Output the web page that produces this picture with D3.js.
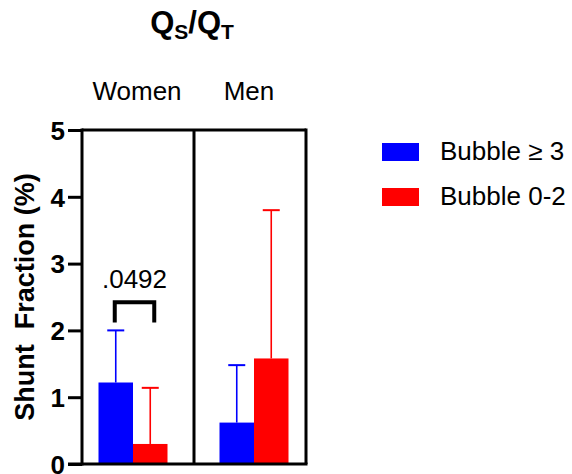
<!DOCTYPE html>
<html>
<head>
<meta charset="utf-8">
<script src="https://cdn.jsdelivr.net/npm/d3@7"></script>
<style>
  html, body { margin: 0; padding: 0; background: #fff; }
  svg { display: block; font-family: "Liberation Sans", Arial, sans-serif; }
</style>
</head>
<body>
<svg id="chart" width="572" height="474"></svg>
<script>
// Shunt fraction (Qs/Qt) by sex and bubble grade: mean with upward SD whisker
const groups = ["Women", "Men"];
const series = ["Bubble ≥ 3", "Bubble 0-2"];
const colors = ["#0000ff", "#ff0000"];
const means = [[1.22, 0.30], [0.62, 1.58]];   // [group][series]
const errTop = [[2.00, 1.14], [1.48, 3.80]];   // mean + SD
const yTicks = [0, 1, 2, 3, 4, 5];
const pLabel = ".0492";
const bracketLevels = [2.12, 2.42];

const svg = d3.select("#chart");

const y = d3.scaleLinear().domain([0, 5]).range([464, 130]);
// panel frame: one band per group
const xPanel = d3.scaleBand().domain(groups).range([82, 306]).paddingInner(0).paddingOuter(0);
// bar-group centres inside each panel
const xGroup = d3.scalePoint().domain(groups).range([133, 254]);
const barW = 34.5;
const xSeries = d3.scaleBand().domain(series).range([-barW, barW]).padding(0);

// bars
groups.forEach((g, gi) => {
  series.forEach((s, si) => {
    const x0 = xGroup(g) + xSeries(s);
    const cx = x0 + xSeries.bandwidth() / 2;
    const capHalf = 8.5;
    // error whisker
    svg.append("line")
      .attr("x1", cx).attr("x2", cx)
      .attr("y1", y(means[gi][si])).attr("y2", y(errTop[gi][si]))
      .attr("stroke", colors[si]).attr("stroke-width", 1.6);
    svg.append("line")
      .attr("x1", cx - capHalf).attr("x2", cx + capHalf)
      .attr("y1", y(errTop[gi][si])).attr("y2", y(errTop[gi][si]))
      .attr("stroke", colors[si]).attr("stroke-width", 2);
    svg.append("rect")
      .attr("x", x0).attr("width", xSeries.bandwidth())
      .attr("y", y(means[gi][si])).attr("height", y(0) - y(means[gi][si]))
      .attr("fill", colors[si]);
  });
});

// frame: top, right and divider lines
const frame = svg.append("g").attr("stroke", "#000").attr("stroke-width", 3).attr("fill", "none");
frame.append("line").attr("x1", 82).attr("x2", 306).attr("y1", y(5)).attr("y2", y(5));
frame.append("line").attr("x1", 306).attr("x2", 306).attr("y1", y(5) - 1.5).attr("y2", y(0));
frame.append("line").attr("x1", xPanel("Men")).attr("x2", xPanel("Men")).attr("y1", y(5)).attr("y2", y(0));

// y axis
const yAxis = svg.append("g").attr("transform", "translate(82,0)")
  .call(d3.axisLeft(y).tickValues(yTicks).tickSize(14).tickPadding(3).tickFormat(d3.format("d")));
yAxis.select(".domain").attr("stroke", "#000").attr("stroke-width", 3).attr("d", `M0,${y(5) - 1.5}V${y(0) + 1.5}`);
yAxis.selectAll(".tick line").attr("stroke", "#000").attr("stroke-width", 3);
yAxis.selectAll(".tick text").attr("fill", "#000")
  .style("font-size", "26px").style("font-weight", "bold")
  .style("font-family", "'Liberation Sans', Arial, sans-serif").attr("dy", "0.36em");

// x baseline
svg.append("line").attr("x1", 68).attr("x2", 307.5).attr("y1", y(0)).attr("y2", y(0))
  .attr("stroke", "#000").attr("stroke-width", 3);

// group labels above the panels
svg.selectAll(".grp").data(groups).enter().append("text")
  .attr("x", d => xPanel(d) + xPanel.bandwidth() / 2 - 1)
  .attr("y", 100).attr("text-anchor", "middle")
  .style("font-size", "26px").text(d => d);

// y axis title
svg.append("text")
  .attr("transform", `translate(34,297) rotate(-90)`)
  .attr("text-anchor", "middle")
  .style("font-size", "27px").style("font-weight", "bold")
  .style("white-space", "pre").attr("xml:space", "preserve")
  .text("Shunt  Fraction (%)");

// chart title Qs/Qt
const title = svg.append("text").attr("x", 192).attr("y", 33).attr("text-anchor", "middle")
  .style("font-size", "31px").style("font-weight", "bold");
title.append("tspan").text("Q");
title.append("tspan").attr("dy", 6).style("font-size", "21px").text("S");
title.append("tspan").attr("dy", -6).text("/Q");
title.append("tspan").attr("dy", 6).style("font-size", "21px").text("T");

// significance bracket between Women bars
const bx1 = xGroup("Women") + xSeries(series[0]) + xSeries.bandwidth() / 2 - 1;
const bx2 = xGroup("Women") + xSeries(series[1]) + xSeries.bandwidth() / 2 + 4;
svg.append("path")
  .attr("d", `M${bx1},${y(bracketLevels[0])}V${y(bracketLevels[1])}H${bx2}V${y(bracketLevels[0])}`)
  .attr("fill", "none").attr("stroke", "#000").attr("stroke-width", 4);
svg.append("text").attr("x", (bx1 + bx2) / 2).attr("y", y(2.64)).attr("text-anchor", "middle")
  .style("font-size", "26px").text(pLabel);

// legend
const legend = svg.append("g");
series.forEach((s, i) => {
  const ly = 143 + i * 45;
  legend.append("rect").attr("x", 382).attr("y", ly).attr("width", 37).attr("height", 18).attr("fill", colors[i]);
  legend.append("text").attr("x", 440).attr("y", ly + 17).style("font-size", "26px").text(s);
});
</script>
</body>
</html>
